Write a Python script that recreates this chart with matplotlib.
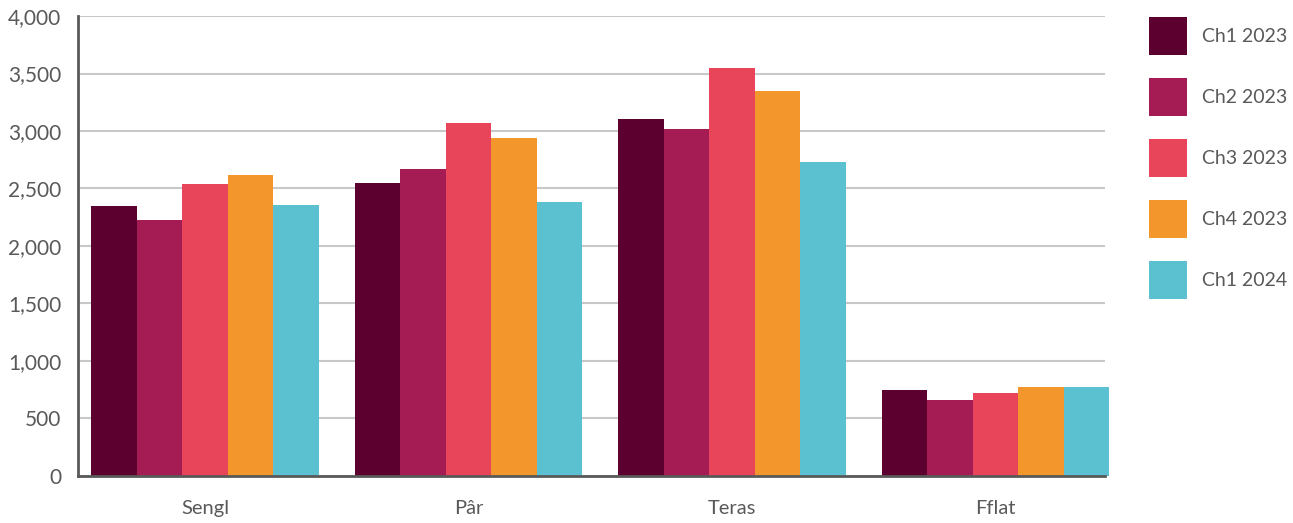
import numpy as np
import matplotlib.pyplot as plt
from matplotlib.patches import Patch

plt.rcParams['font.family'] = ['Lato', 'DejaVu Sans']

categories = ['Sengl', 'Pâr', 'Teras', 'Fflat']
series = ['Ch1 2023', 'Ch2 2023', 'Ch3 2023', 'Ch4 2023', 'Ch1 2024']
ch1_2023 = [2351, 2552, 3103, 745]
ch2_2023 = [2229, 2666, 3016, 658]
ch3_2023 = [2535, 3068, 3549, 718]
ch4_2023 = [2614, 2937, 3348, 770]
ch1_2024 = [2360, 2386, 2727, 770]
values = [ch1_2023, ch2_2023, ch3_2023, ch4_2023, ch1_2024]
colors = ['#5c0030', '#a51c55', '#e8445a', '#f3962c', '#5bc1d0']

fig = plt.figure(figsize=(12.93, 5.23), dpi=100)
ax = fig.add_axes([0.0603, 0.0899, 0.7943, 0.8795])

x = np.arange(len(categories))
w = 0.1727
for i, (vals, c) in enumerate(zip(values, colors)):
    ax.bar(x + (i - 2) * w, vals, w, color=c, label=series[i], clip_on=False, zorder=3)

ax.set_xlim(-0.483, 3.415)
ax.set_ylim(0, 4000)
ax.set_yticks(np.arange(0, 4001, 500))
ax.set_yticklabels([f'{v:,}' for v in range(0, 4001, 500)])
ax.set_xticks(x)
ax.set_xticklabels(categories)
ax.grid(axis='y', color='#c8c8c8', linewidth=1.5, zorder=0)
ax.tick_params(axis='y', length=0, pad=12, labelsize=15, labelcolor='#595959')
ax.tick_params(axis='x', length=0, pad=17, labelsize=14.5, labelcolor='#595959')
for s in ['top', 'right']:
    ax.spines[s].set_visible(False)
for s in ['left', 'bottom']:
    ax.spines[s].set_color('#595959')
    ax.spines[s].set_linewidth(2)
    ax.spines[s].set_zorder(4)

handles = [Patch(facecolor=c, edgecolor='none') for c in colors]
fig.legend(handles, series, loc='upper left', bbox_to_anchor=(1149 / 1293, 1 - 17 / 523),
           frameon=False, fontsize=14, handlelength=1.954, handleheight=2.63,
           labelspacing=1.18, handletextpad=0.77, borderpad=0, borderaxespad=0,
           labelcolor='#595959')

plt.savefig('out.png')
